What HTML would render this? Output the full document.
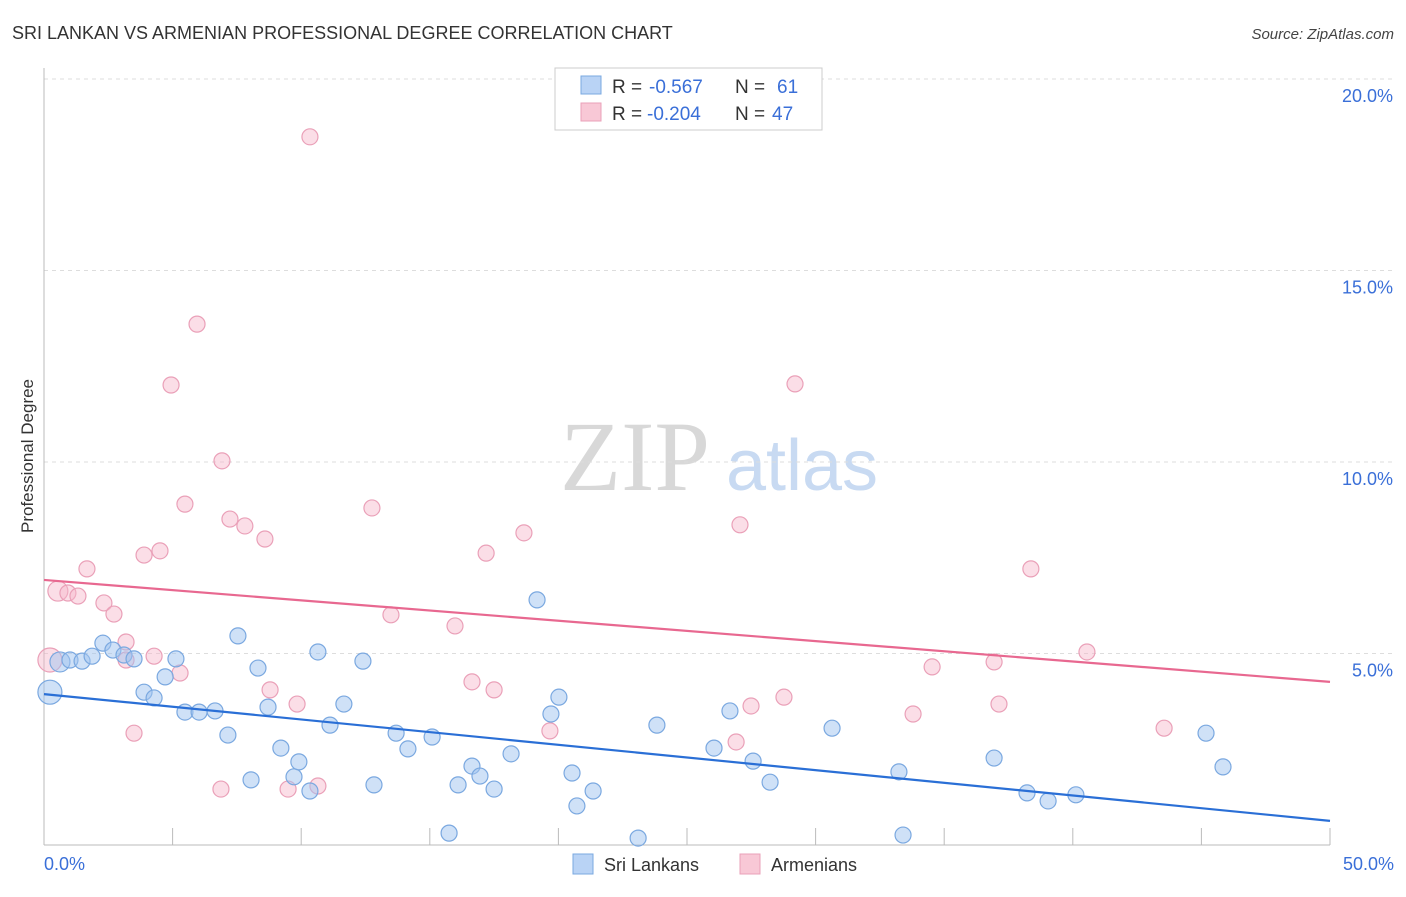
<!DOCTYPE html>
<html><head><meta charset="utf-8"><style>
body{margin:0;background:#fff;font-family:"Liberation Sans",sans-serif;}
</style></head><body>
<svg id="chart" width="1406" height="892" viewBox="0 0 1406 892" xmlns="http://www.w3.org/2000/svg" font-family="Liberation Sans, sans-serif">
<text x="12" y="39" font-size="18" fill="#333">SRI LANKAN VS ARMENIAN PROFESSIONAL DEGREE CORRELATION CHART</text>
<text x="1394" y="39" font-size="15" fill="#444" text-anchor="end" font-style="italic">Source: ZipAtlas.com</text>
<text transform="translate(33,456) rotate(-90)" font-size="17" fill="#333" text-anchor="middle">Professional Degree</text>
<g>
<text x="635" y="490" font-size="100" fill="#d8d8d8" text-anchor="middle" style="font-family:'Liberation Serif',serif">ZIP</text>
<text x="802" y="490" font-size="72" fill="#c8daf2" text-anchor="middle">atlas</text>
</g>
<g id="grid"></g><g id="axes"></g><g id="pts"></g><g id="lines"></g>
<g>
<rect x="555" y="68" width="267" height="62" fill="#fff" stroke="#ccc"/>
<rect x="581" y="76" width="20" height="18" fill="#b9d3f5" stroke="#7aa8e0"/>
<rect x="581" y="103" width="20" height="18" fill="#f8c8d6" stroke="#eaa0b8"/>
<text x="612" y="93" font-size="19" fill="#333">R =</text>
<text x="649" y="93" font-size="19" fill="#3a6fd8">-0.567</text>
<text x="735" y="93" font-size="19" fill="#333">N =</text>
<text x="777" y="93" font-size="19" fill="#3a6fd8">61</text>
<text x="612" y="120" font-size="19" fill="#333">R =</text>
<text x="647" y="120" font-size="19" fill="#3a6fd8">-0.204</text>
<text x="735" y="120" font-size="19" fill="#333">N =</text>
<text x="772" y="120" font-size="19" fill="#3a6fd8">47</text>
</g>
<g>
<rect x="573" y="854" width="20" height="20" fill="#b9d3f5" stroke="#7aa8e0"/>
<text x="604" y="871" font-size="18" fill="#333">Sri Lankans</text>
<rect x="740" y="854" width="20" height="20" fill="#f8c8d6" stroke="#eaa0b8"/>
<text x="771" y="871" font-size="18" fill="#333">Armenians</text>
</g>
</svg>
<script>
const blueX=[0.23,0.62,1.01,1.48,1.87,2.29,2.68,3.11,3.5,3.89,4.28,4.71,5.13,5.48,6.03,6.65,7.15,7.54,8.05,8.32,8.71,9.21,9.72,9.91,10.34,10.65,11.12,11.66,12.4,12.83,13.69,14.15,15.09,15.75,16.1,16.64,16.95,17.5,18.16,19.17,19.71,20.02,20.53,20.72,21.35,23.1,23.83,26.05,26.67,27.57,28.23,30.64,33.24,33.4,36.94,38.22,39.04,40.12,45.18,45.84];
const blueY=[3.99,4.78,4.83,4.8,4.93,5.27,5.09,4.96,4.86,3.99,3.84,4.39,4.86,3.47,3.47,3.5,2.87,5.46,1.7,4.62,3.6,2.53,1.78,2.17,1.41,5.04,3.13,3.68,4.8,1.57,2.92,2.51,2.82,0.31,1.57,2.06,1.8,1.46,2.38,6.4,3.42,3.86,1.88,1.02,1.41,0.18,3.13,2.53,3.5,2.19,1.64,3.05,1.91,0.26,2.27,1.36,1.15,1.31,2.92,2.04];
const pinkX=[0.23,0.54,0.93,1.32,1.67,2.33,2.72,3.19,3.19,3.5,3.89,4.28,4.51,4.94,5.29,5.48,5.95,6.88,6.92,7.23,7.81,8.59,8.79,9.49,9.84,10.34,10.65,12.75,13.49,15.98,16.64,17.19,17.5,18.66,19.67,26.91,27.06,27.49,28.77,29.2,33.79,34.53,36.94,37.13,38.37,40.55,43.55];
const pinkY=[4.83,6.63,6.58,6.5,7.21,6.32,6.03,5.3,4.83,2.92,7.57,4.93,7.68,12.01,4.49,8.9,13.6,1.46,10.03,8.51,8.33,7.99,4.05,1.46,3.68,18.49,1.54,8.8,6.01,5.72,4.26,7.62,4.05,8.15,2.98,2.69,8.36,3.63,3.86,12.04,3.42,4.65,4.78,3.68,7.21,5.04,3.05];
const blueTrend=[3.94,0.63];
const pinkTrend=[6.92,4.26];
const yTicks=[5,10,15,20];
const yTickLabels=["5.0%","10.0%","15.0%","20.0%"];
const xTickLabels=["0.0%","50.0%"];
const NS="http://www.w3.org/2000/svg";
const X=v=>44+v*25.72, Y=v=>845-v*38.3;
function mk(tag,attrs,parent){const e=document.createElementNS(NS,tag);for(const k in attrs)e.setAttribute(k,attrs[k]);document.getElementById(parent).appendChild(e);return e;}
yTicks.forEach((t,i)=>{
 const l=mk('line',{x1:44,x2:1394,y1:Y(t),y2:Y(t),stroke:'#ddd','stroke-dasharray':'4,4'},'grid');
 
 
 const tx=mk('text',{x:1393,y:Y(t)+23,'font-size':18,fill:'#3a6fd8','text-anchor':'end'},'axes');
 tx.textContent=yTickLabels[i];
 
 
});
const ax=mk('line',{x1:44,x2:44,y1:68,y2:845,stroke:'#bbb'},'axes');


const bx=mk('line',{x1:44,x2:1330,y1:845,y2:845,stroke:'#bbb'},'axes');


for(let i=0;i<=10;i++){const t=mk('line',{x1:X(i*5),x2:X(i*5),y1:828,y2:845,stroke:'#bbb'},'axes');
 
 }
[[0,'start',44],[50,'end',1394]].forEach((d,i)=>{const t=mk('text',{x:d[2],y:870,'font-size':18,fill:'#3a6fd8','text-anchor':d[1]},'axes');t.textContent=xTickLabels[i];
 
 });
function pts(xs,ys,fill,stroke,name){xs.forEach((x,i)=>{const r=(i<2&&x<1)?(i==0?12:10):8;
 const c=mk('circle',{cx:X(x),cy:Y(ys[i]),r:r,fill:fill,stroke:stroke,'stroke-width':1.2},'pts');
 
 });}
pts(pinkX,pinkY,'rgba(246,182,202,0.45)','#eaa0b8','armenian-point');
pts(blueX,blueY,'rgba(160,195,240,0.5)','#7aa8e0','sri-lankan-point');
const l1=mk('line',{x1:X(0),y1:Y(blueTrend[0]),x2:X(50),y2:Y(blueTrend[1]),stroke:'#2a6fd6','stroke-width':2.2},'lines');


const l2=mk('line',{x1:X(0),y1:Y(pinkTrend[0]),x2:X(50),y2:Y(pinkTrend[1]),stroke:'#e86890','stroke-width':2.2},'lines');


</script>
</body></html>
